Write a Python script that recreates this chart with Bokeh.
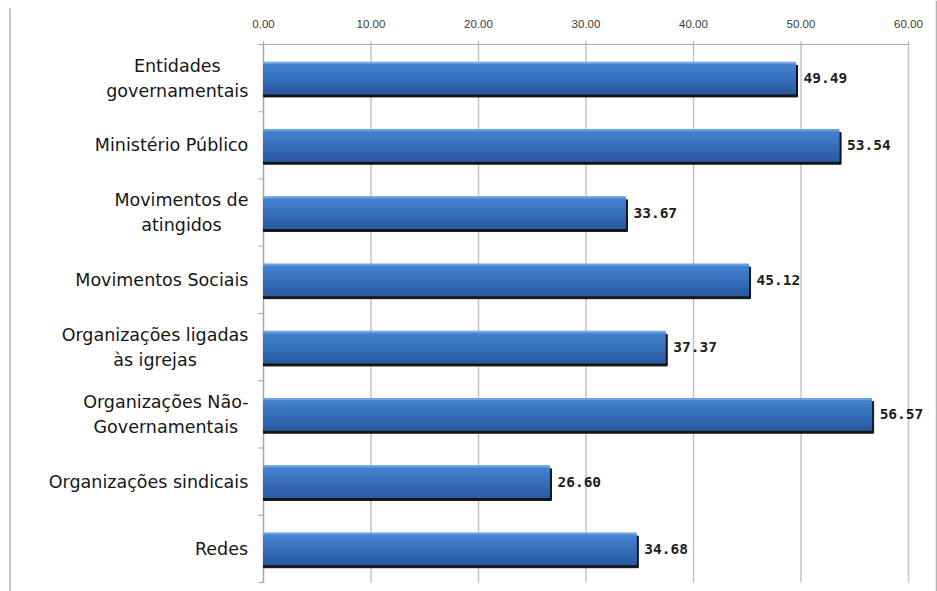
from bokeh.plotting import figure
from bokeh.models import ColumnDataSource, Range1d
from bokeh.core.properties import value
from bokeh.transform import dodge
from bokeh.embed import file_html
from bokeh.resources import INLINE

# ---------------- data ----------------
categories = ["Entidades governamentais", "Ministério Público", "Movimentos de atingidos",
              "Movimentos Sociais", "Organizações ligadas às igrejas",
              "Organizações Não-Governamentais", "Organizações sindicais", "Redes"]
category_labels = ["Entidades\ngovernamentais", "Ministério Público", "Movimentos de\natingidos",
                   "Movimentos Sociais", "Organizações ligadas\nàs igrejas",
                   "Organizações Não-\nGovernamentais", "Organizações sindicais", "Redes"]
values = [49.49, 53.54, 33.67, 45.12, 37.37, 56.57, 26.60, 34.68]
x_ticks = [0, 10, 20, 30, 40, 50, 60]
x_tick_labels = [f"{t:.2f}" for t in x_ticks]

# ---------------- layout constants (pixels) ----------------
WIDTH, HEIGHT = 937, 591
PLOT_LEFT, PLOT_RIGHT = 263, 908      # pixel x of value 0 and value 60
PLOT_TOP, PLOT_BOTTOM = 44, 582       # pixel y of category area
XMIN, XMAX = x_ticks[0], x_ticks[-1]
n = len(categories)
PPX = (PLOT_RIGHT - PLOT_LEFT) / (XMAX - XMIN)
PPY = (PLOT_BOTTOM - PLOT_TOP) / n
X0 = XMIN - PLOT_LEFT / PPX
X1 = X0 + WIDTH / PPX
Y1 = n + PLOT_TOP / PPY
Y0 = Y1 - HEIGHT / PPY


def dx(px):
    return X0 + px / PPX


def dy(py):
    return Y1 - py / PPY


# approximate DejaVu Sans advance widths (per 1000 em) used to centre multi-line labels
W = {"E": 632, "n": 634, "t": 392, "i": 278, "d": 635, "a": 613, "s": 521, "g": 635,
     "o": 612, "v": 592, "e": 615, "r": 411, "m": 974, "M": 863, "é": 615, "P": 603,
     "ú": 634, "b": 635, "l": 278, "c": 550, "S": 635, "O": 787, "z": 525, "ç": 550,
     "õ": 612, "à": 613, "j": 278, "N": 748, "ã": 613, "-": 361, "G": 775, "R": 695,
     " ": 318}
LABEL_SIZE = 17.5


def text_width(s, size=LABEL_SIZE):
    return sum(W.get(ch, 600) for ch in s) / 1000.0 * size


ypos = [n - i - 0.5 for i in range(n)]

src = ColumnDataSource(dict(
    cat=categories,
    lab=category_labels,
    y=ypos,
    v=values,
    v_sh=[v + 2 / PPX for v in values],
    vl=[f"{v:.2f}" for v in values],
    zero=[0] * n,
    xoff=[-(15 + max(text_width(l) for l in lab.split("\n")) / 2) for lab in category_labels],
))

p = figure(width=WIDTH, height=HEIGHT, x_range=Range1d(X0, X1), y_range=Range1d(Y0, Y1),
           x_axis_location=None, y_axis_location=None,
           output_backend="svg", toolbar_location=None, min_border=0)
p.outline_line_color = None
p.grid.visible = False
p.background_fill_color = "white"
p.border_fill_color = "white"

AXIS_C = "#a8a8a8"
GRID_C = "#c4c4c4"

# outer frame rules
p.segment(x0=[dx(9.5), dx(936)], y0=[dy(8), dy(0)], x1=[dx(9.5), dx(936)], y1=[Y0, Y0],
          line_color="#b4b4b4", line_width=1.5)

# vertical gridlines
p.segment(x0=x_ticks, y0=[0] * len(x_ticks), x1=x_ticks, y1=[n] * len(x_ticks),
          line_color=GRID_C, line_width=1.5)

# top axis: line, ticks, labels
p.segment(x0=[XMIN], y0=[n], x1=[XMAX], y1=[n], line_color=AXIS_C, line_width=1.2)
p.segment(x0=x_ticks, y0=[n] * len(x_ticks), x1=x_ticks, y1=[n + 3 / PPY] * len(x_ticks),
          line_color=AXIS_C, line_width=1.2)
p.text(x=x_ticks, y=[n] * len(x_ticks), text=x_tick_labels, y_offset=-21,
       text_align="center", text_baseline="middle",
       text_font=value("Liberation Sans"), text_font_size="11.5px", text_color="#3a3a3a")

# left axis: line and category boundary ticks
bounds = list(range(n + 1))
p.segment(x0=[0], y0=[0], x1=[0], y1=[n], line_color=AXIS_C, line_width=1.2)
p.segment(x0=[-5 / PPX] * len(bounds), y0=bounds, x1=[0] * len(bounds), y1=bounds,
          line_color=AXIS_C, line_width=1.2)

# bars: shadow + vertical gradient made of stripes
bar_h = 0.47
p.hbar(y=dodge("y", -3 / PPY), right="v_sh", left=0, height=bar_h, color="#151515", source=src)

top_c = (0x45, 0x85, 0xD3)
bot_c = (0x2B, 0x5C, 0xA6)
nst = 14
for k in range(nst):
    t = k / (nst - 1)
    c = tuple(int(round(top_c[j] + (bot_c[j] - top_c[j]) * t)) for j in range(3))
    col = "#%02x%02x%02x" % c
    if k == 0:
        col = "#6b9fe0"
    off = bar_h / 2 - (k + 0.5) * bar_h / nst
    p.hbar(y=dodge("y", off), right="v", left=0, height=bar_h / nst * 1.08,
           color=col, source=src)

# value labels
p.text(x="v", y="y", text="vl", x_offset=8, source=src,
       text_baseline="middle", text_align="left",
       text_font=value("DejaVu Sans Mono"), text_font_style="bold",
       text_font_size="14.5px", text_color="#1e1e1e")

# category labels (multi-line, lines centred, block right-aligned to the axis)
p.text(x="zero", y="y", text="lab", x_offset="xoff", source=src,
       text_baseline="middle", text_align="center",
       text_font=value("DejaVu Sans"), text_font_size=f"{LABEL_SIZE}px",
       text_line_height=1.24, text_color="#161616")

open("out.html", "w").write(file_html(p, INLINE))
